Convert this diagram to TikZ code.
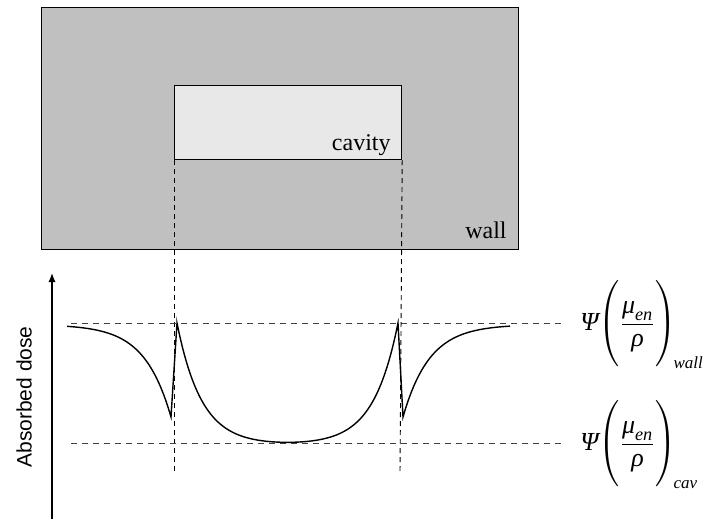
\documentclass[tikz,border=0pt]{standalone}
\usepackage{amsmath}
\usepackage{fontspec}
\setmainfont{Liberation Serif}
\newfontfamily\axisfont{Liberation Sans}
\usepackage{tikz}
\usetikzlibrary{positioning,calc}
\usetikzlibrary{arrows.meta}
\definecolor{WallGray}{RGB}{192,192,192}
\definecolor{CavGray}{RGB}{232,232,232}
\newcommand{\coeff}[1]{$\text{\itshape Ψ}\!\left(\vcenter{\hbox{\rule{0pt}{40pt}}}\dfrac{\text{\itshape μ}_{\text{\itshape en}}}{\text{\itshape ρ}}\right)_{\!\text{\itshape\fontsize{8.5}{10}\selectfont #1}}$}
\tikzset{
  block/.style={draw=black,line width=0.6pt,inner sep=0pt,anchor=north west},
  guide/.style={dashed,dash pattern=on 2.5pt off 2pt,line width=0.45pt},
  level/.style={dashed,dash pattern=on 3pt off 2.5pt,line width=0.45pt,draw=black!75},
  dose/.style={line width=0.7pt,line join=miter},
}
\tikzset{lbl/.style={font=\fontsize{12}{14}\selectfont,inner sep=0pt},eqn/.style={font=\fontsize{13}{15}\selectfont,inner sep=0pt,anchor=base west}}

\begin{document}
\begin{tikzpicture}[x=0.5pt,y=-0.5pt]
\useasboundingbox (0,0) rectangle (710,519);
\node[block,fill=WallGray,minimum width=238.5pt,minimum height=121pt] (wall) at (41,7) {};
\node[block,fill=CavGray,minimum width=113.5pt,minimum height=37pt] (cav) at (174,85) {};
\node[lbl,anchor=base east] (cavtxt) at (391,150) {cavity};
\node[lbl,anchor=base east] (walltxt) at (507,238) {wall};
% guides down from the cavity
\coordinate (gl) at (174,473);
\coordinate (gr) at (400,473);
\draw[guide] (cav.south west) -- (gl);
\draw[guide] (cav.south east) -- (gr);
% dose axis
\coordinate (ya) at (52,519);
\coordinate (yb) at (52,273);
\draw[line width=0.6pt,-{Latex[length=4.5pt,width=3.5pt]}] (ya) -- (yb);
\node[font=\axisfont\fontsize{10.5}{12}\selectfont,rotate=90,inner sep=0pt] (ylab) at (24,397) {Absorbed dose};
% levels
\coordinate (wa) at (71,323);
\coordinate (wb) at (562,323);
\coordinate (ca) at (71,443);
\coordinate (cb) at (562,443);
\draw[level] (wa) -- (wb);
\draw[level] (ca) -- (cb);
\node[eqn] (eqw) at (580,330) {\coeff{wall}};
\node[eqn] (eqc) at (580,450) {\coeff{cav}};
% dose curve
\draw[dose] plot[domain=67:171,samples=60] (\x,{324.5+92.5*exp((\x-171)/26.5)})
  -- (177,323)
  -- plot[domain=177:398,samples=120] (\x,{445-122*(exp(-(\x-177)/24.5)+exp((\x-398)/24.5))})
  -- (403,417)
  -- plot[domain=403:510,samples=60] (\x,{324.5+92.5*exp(-(\x-403)/26.5)});
\end{tikzpicture}
\end{document}
